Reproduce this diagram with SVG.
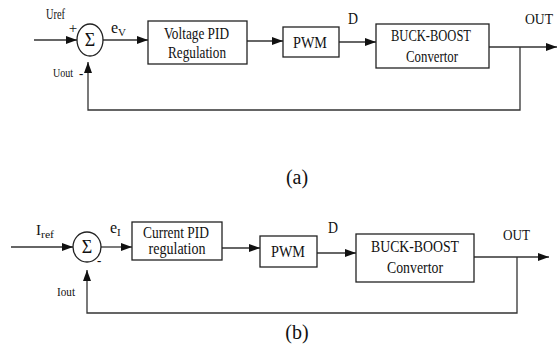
<svg xmlns="http://www.w3.org/2000/svg" width="558" height="364" viewBox="0 0 558 364">
<style>
text{font-family:"Liberation Serif","Times New Roman",serif;fill:#111}
.box{fill:#fff;stroke:#222;stroke-width:1.3}
.bt{font-size:17px;text-anchor:middle}
.ln{fill:none;stroke:#333;stroke-width:1.3}
.lbl{font-size:14px}
.cap{font-size:20px;text-anchor:middle}
</style>
<defs>
<marker id="ah" markerUnits="userSpaceOnUse" markerWidth="12" markerHeight="10" refX="11" refY="5" orient="auto">
<path d="M0,1 L11,5 L0,9 Z" fill="#111"/>
</marker>
</defs>

<g id="connectors">
<path class="ln" d="M34,40 H77" marker-end="url(#ah)"/>
<path class="ln" d="M103,40 H148" marker-end="url(#ah)"/>
<path class="ln" d="M247,41 H283" marker-end="url(#ah)"/>
<path class="ln" d="M339,42 H376" marker-end="url(#ah)"/>
<path class="ln" d="M489,47 H557" marker-end="url(#ah)"/>
<path class="ln" d="M520,47 V110 H88 V62" marker-end="url(#ah)"/>
<path class="ln" d="M11,247 H73" marker-end="url(#ah)"/>
<path class="ln" d="M101,247 H132" marker-end="url(#ah)"/>
<path class="ln" d="M222,248 H260" marker-end="url(#ah)"/>
<path class="ln" d="M317,253 H356" marker-end="url(#ah)"/>
<path class="ln" d="M474,257 H549" marker-end="url(#ah)"/>
<path class="ln" d="M517,257 V313 H87 V270" marker-end="url(#ah)"/>
</g>

<g id="sum-a">
<ellipse cx="90" cy="40" rx="13" ry="16" class="box"/>
<text x="90" y="46" style="font-size:18px;text-anchor:middle">Σ</text>
<text x="46" y="19" class="lbl" textLength="19" lengthAdjust="spacingAndGlyphs">Uref</text>
<text x="73" y="33" style="font-size:15px;text-anchor:middle">+</text>
<text x="53" y="77" style="font-size:13px" textLength="20" lengthAdjust="spacingAndGlyphs">Uout</text>
<text x="79" y="78" style="font-size:13px;font-weight:bold">-</text>
<text x="111" y="33" style="font-size:16px">e</text>
<text x="118" y="36" style="font-size:11px">V</text>
</g>
<g id="pid-a">
<rect x="148" y="21" width="99" height="43" class="box"/>
<text x="196.5" y="39" class="bt" textLength="65" lengthAdjust="spacingAndGlyphs">Voltage PID</text>
<text x="197" y="58" class="bt" textLength="58" lengthAdjust="spacingAndGlyphs">Regulation</text>
</g>
<g id="pwm-a">
<rect x="283" y="27" width="56" height="30" class="box"/>
<text x="310" y="48" class="bt" textLength="34" lengthAdjust="spacingAndGlyphs">PWM</text>
<text x="348" y="24" style="font-size:16px" textLength="10" lengthAdjust="spacingAndGlyphs">D</text>
</g>
<g id="conv-a">
<rect x="376" y="24" width="113" height="44" class="box"/>
<text x="431" y="41" class="bt" textLength="80" lengthAdjust="spacingAndGlyphs">BUCK-BOOST</text>
<text x="432" y="62" class="bt" textLength="52" lengthAdjust="spacingAndGlyphs">Convertor</text>
<text x="525" y="24" style="font-size:15px" textLength="28" lengthAdjust="spacingAndGlyphs">OUT</text>
</g>
<text x="297" y="184" class="cap">(a)</text>

<g id="sum-b">
<ellipse cx="87" cy="247" rx="14" ry="15" class="box"/>
<text x="87" y="253" style="font-size:18px;text-anchor:middle">Σ</text>
<text x="36" y="235" style="font-size:15px">I</text>
<text x="41" y="238" style="font-size:10px" textLength="13" lengthAdjust="spacingAndGlyphs">ref</text>
<text x="97" y="265" style="font-size:13px;font-weight:bold">-</text>
<text x="57" y="296" style="font-size:13px" textLength="18" lengthAdjust="spacingAndGlyphs">Iout</text>
<text x="110" y="233" style="font-size:16px">e</text>
<text x="117" y="236" style="font-size:11px">I</text>
</g>
<g id="pid-b">
<rect x="132" y="222" width="90" height="38" class="box"/>
<text x="176" y="238" class="bt" style="font-size:16px" textLength="66" lengthAdjust="spacingAndGlyphs">Current PID</text>
<text x="177" y="254" class="bt" style="font-size:16px" textLength="57" lengthAdjust="spacingAndGlyphs">regulation</text>
</g>
<g id="pwm-b">
<rect x="260" y="236" width="57" height="31" class="box"/>
<text x="288" y="257" class="bt" textLength="34" lengthAdjust="spacingAndGlyphs">PWM</text>
<text x="328" y="233" style="font-size:16px" textLength="10" lengthAdjust="spacingAndGlyphs">D</text>
</g>
<g id="conv-b">
<rect x="356" y="234" width="118" height="48" class="box"/>
<text x="415" y="252" class="bt" textLength="88" lengthAdjust="spacingAndGlyphs">BUCK-BOOST</text>
<text x="415" y="273" class="bt" textLength="56" lengthAdjust="spacingAndGlyphs">Convertor</text>
<text x="503" y="240" style="font-size:15px" textLength="27" lengthAdjust="spacingAndGlyphs">OUT</text>
</g>
<text x="297" y="339" class="cap">(b)</text>
</svg>
